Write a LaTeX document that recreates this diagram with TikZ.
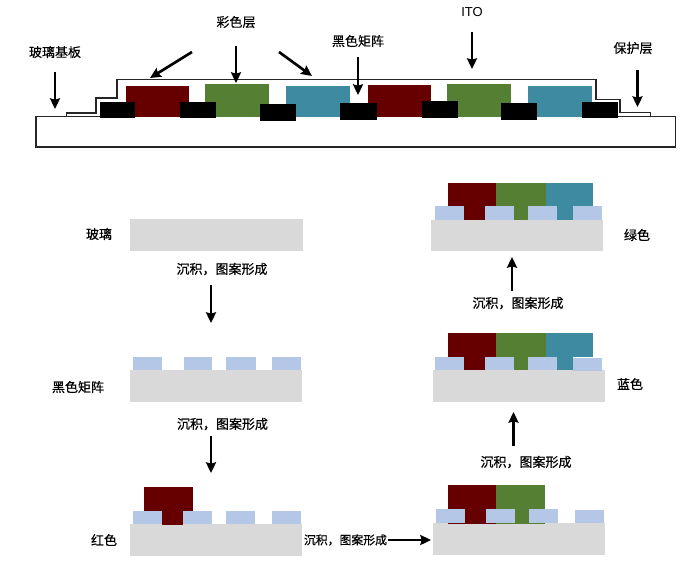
\documentclass[tikz,border=0pt]{standalone}
\usepackage{fontspec}
\setmainfont{Liberation Sans}
\newfontfamily\cjk{Noto Sans CJK SC}
\usetikzlibrary{
    arrows.meta,
    positioning
}
\definecolor{darkred}{HTML}{660000}
\definecolor{leafgreen}{HTML}{558033}
\definecolor{tealblue}{HTML}{3E8AA0}
\definecolor{paleblue}{HTML}{B4C7E7}
\definecolor{glassgray}{HTML}{D9D9D9}
\tikzstyle{label} = [
    inner sep=0pt,
    font=\fontsize{9.75pt}{11pt}\selectfont\cjk\addfontfeatures{FakeBold=0.3}
]
\tikzstyle{stage} = [
    label,
    font=\fontsize{9.75pt}{11pt}\selectfont\cjk\addfontfeatures{FakeBold=0.7}
]
\tikzstyle{flow} = [
    -{Stealth[length=8pt,width=7.5pt,inset=1pt]},
    line width=2pt,
    draw=black
]
\tikzstyle{outline} = [
    draw=black!85,
    line width=1pt
]
\tikzstyle{glass} = [fill=glassgray]
\tikzstyle{matrix tab} = [fill=paleblue]
\tikzstyle{red dye} = [fill=darkred]
\tikzstyle{green dye} = [fill=leafgreen]
\tikzstyle{blue dye} = [fill=tealblue]
\tikzstyle{black tab} = [fill=black]

\begin{document}
\begin{tikzpicture}[x=0.75pt, y=-0.75pt]
    \useasboundingbox (0, 0) rectangle (700, 562);

    % Cross section: substrate and protective layer
    \draw[outline] (36, 116.5) rectangle (675.5, 147);
    \draw[outline] (66.5, 116.5) -- (66.5, 113) -- (96, 113) -- (96, 98) -- (117, 98) -- (117, 79.5)
        -- (596, 79.5) -- (596, 99.5) -- (620, 99.5) -- (620, 112.5) -- (650.5, 112.5) -- (650.5, 116.5);

    % Cross section: colour layer
    \fill[red dye] (125.5, 85.5) rectangle (189, 116.5);
    \fill[green dye] (204.5, 83.5) rectangle (268.5, 116.5);
    \fill[blue dye] (286, 86) rectangle (350, 116.5);
    \fill[red dye] (368, 85) rectangle (431, 116.5);
    \fill[green dye] (447, 83.5) rectangle (511, 116.5);
    \fill[blue dye] (527.5, 86) rectangle (591.5, 116.5);

    % Cross section: black matrix
    \fill[black tab] (99.5, 101.5) rectangle (135, 118);
    \fill[black tab] (180, 102) rectangle (216, 118);
    \fill[black tab] (260, 104) rectangle (296, 120.5);
    \fill[black tab] (340, 103) rectangle (376.5, 119.5);
    \fill[black tab] (421.5, 101) rectangle (458, 118);
    \fill[black tab] (501, 103) rectangle (537, 119.5);
    \fill[black tab] (582, 101.5) rectangle (618, 118);

    % Cross section: labels
    \node[label] (substrate) at (55, 52) {玻璃基板};
    \node[label] (colour) at (236, 22) {彩色层};
    \node[label] (matrix) at (358, 41) {黑色矩阵};
    \node[label, font=\fontsize{9.75pt}{11pt}\selectfont] (ito) at (472, 12) {ITO};
    \node[label] (cover) at (633, 48) {保护层};

    % Cross section: arrows
    \coordinate (substrate a) at (55, 72);
    \coordinate (substrate b) at (55, 109);
    \coordinate (colour a) at (192, 52);
    \coordinate (colour b) at (150, 78);
    \coordinate (colour c) at (236, 46);
    \coordinate (colour d) at (236, 83);
    \coordinate (colour e) at (279, 52);
    \coordinate (colour f) at (312, 76);
    \coordinate (matrix a) at (358, 57);
    \coordinate (matrix b) at (358, 95);
    \coordinate (ito a) at (472, 32);
    \coordinate (ito b) at (472, 69);
    \coordinate (cover a) at (637.5, 70);
    \coordinate (cover b) at (637.5, 107);
    \draw[flow] (substrate a) -- (substrate b);
    \draw[flow] (colour a) -- (colour b);
    \draw[flow] (colour c) -- (colour d);
    \draw[flow] (colour e) -- (colour f);
    \draw[flow] (matrix a) -- (matrix b);
    \draw[flow] (ito a) -- (ito b);
    \draw[flow] (cover a) -- (cover b);

    % Step 1: glass
    \fill[glass] (130, 219) rectangle (303, 251);
    \node[stage] (glass label) at (99, 234) {玻璃};
    \node[stage] (step a) at (222, 269) {沉积，图案形成};

    % Step 2: black matrix
    \fill[glass] (130, 370) rectangle (302, 402);
    \fill[matrix tab] (132.5, 356.5) rectangle (162, 370);
    \fill[matrix tab] (183.5, 356.5) rectangle (212, 370);
    \fill[matrix tab] (226, 356.5) rectangle (255.5, 370);
    \fill[matrix tab] (272, 356.5) rectangle (301, 370);
    \node[stage] (matrix label) at (78, 387) {黑色矩阵};
    \node[stage] (step b) at (222.5, 424) {沉积，图案形成};

    % Step 3: red
    \fill[glass] (130, 524) rectangle (302, 556);
    \fill[matrix tab] (132.5, 510.5) rectangle (162, 524);
    \fill[matrix tab] (183, 510.5) rectangle (212, 524);
    \fill[matrix tab] (225.5, 510.5) rectangle (255, 524);
    \fill[matrix tab] (272, 510.5) rectangle (301, 524);
    \fill[red dye] (144, 487) rectangle (193, 510.5);
    \fill[red dye] (162, 510) rectangle (183, 525);
    \node[stage] (red label) at (104, 540) {红色};
    \node[stage, font=\fontsize{8.9pt}{11pt}\selectfont\cjk\addfontfeatures{FakeBold=0.7}] (step c) at (345.5, 540) {沉积，图案形成};

    % Step 4: red and green
    \fill[glass] (433, 523) rectangle (605, 555);
    \fill[red dye] (447.5, 484.5) rectangle (495.5, 523.5);
    \fill[green dye] (495.5, 484.5) rectangle (545, 523.5);
    \fill[matrix tab] (435.5, 509) rectangle (465, 523);
    \fill[matrix tab] (486, 509) rectangle (515, 523);
    \fill[matrix tab] (529, 509) rectangle (558, 523);
    \fill[matrix tab] (574.5, 510) rectangle (604, 523);
    \node[stage] (step d) at (526, 462) {沉积，图案形成};

    % Step 5: blue
    \fill[glass] (433, 370) rectangle (605, 402);
    \fill[red dye] (447.5, 332.5) rectangle (495.5, 370);
    \fill[green dye] (495.5, 332.5) rectangle (545.5, 370);
    \fill[blue dye] (545.5, 332.5) rectangle (592.5, 357);
    \fill[blue dye] (556.5, 357) rectangle (573, 370);
    \fill[matrix tab] (434.5, 357) rectangle (464, 370);
    \fill[matrix tab] (484.5, 357) rectangle (513.5, 370);
    \fill[matrix tab] (527.5, 357) rectangle (556.5, 370);
    \fill[matrix tab] (573, 358) rectangle (602, 371);
    \node[stage] (blue label) at (630, 384) {蓝色};
    \node[stage] (step e) at (518, 303) {沉积，图案形成};

    % Step 6: green
    \fill[glass] (430.5, 219.5) rectangle (602.5, 251);
    \fill[red dye] (447.5, 183) rectangle (495.5, 220);
    \fill[green dye] (495.5, 183) rectangle (545.5, 220);
    \fill[blue dye] (545.5, 183) rectangle (592.5, 206);
    \fill[blue dye] (556.5, 206) rectangle (573, 220);
    \fill[matrix tab] (434.5, 206) rectangle (464, 220);
    \fill[matrix tab] (484.5, 206) rectangle (513.5, 220);
    \fill[matrix tab] (527.5, 206) rectangle (556.5, 220);
    \fill[matrix tab] (573, 206) rectangle (602, 220);
    \node[stage] (green label) at (637, 235) {绿色};

    % Process arrows
    \coordinate (down a) at (211, 285);
    \coordinate (down b) at (211, 323);
    \coordinate (down c) at (211, 436);
    \coordinate (down d) at (211, 473);
    \coordinate (up a) at (513.5, 446);
    \coordinate (up b) at (513.5, 412);
    \coordinate (up c) at (512, 291);
    \coordinate (up d) at (512, 257);
    \coordinate (right a) at (388, 540);
    \coordinate (right b) at (431, 540);
    \draw[flow] (down a) -- (down b);
    \draw[flow] (down c) -- (down d);
    \draw[flow] (right a) -- (right b);
    \draw[flow] (up a) -- (up b);
    \draw[flow] (up c) -- (up d);
\end{tikzpicture}
\end{document}
